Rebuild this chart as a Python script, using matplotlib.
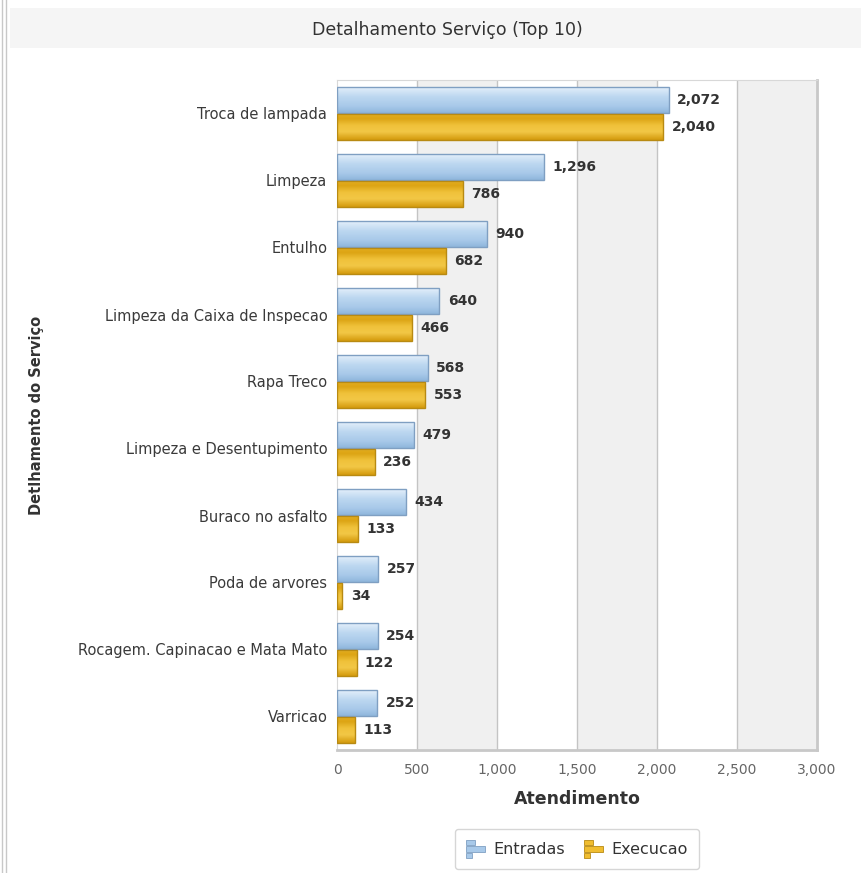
import numpy as np
import matplotlib
matplotlib.use("Agg")
import matplotlib.pyplot as plt
from matplotlib.colors import LinearSegmentedColormap
from matplotlib.patches import Rectangle
from matplotlib.lines import Line2D
from matplotlib.legend_handler import HandlerBase
import matplotlib.ticker as ticker

plt.rcParams["font.family"] = ["DejaVu Sans"]

categories = [
    "Troca de lampada",
    "Limpeza",
    "Entulho",
    "Limpeza da Caixa de Inspecao",
    "Rapa Treco",
    "Limpeza e Desentupimento",
    "Buraco no asfalto",
    "Poda de arvores",
    "Rocagem. Capinacao e Mata Mato",
    "Varricao",
]
entradas = [2072, 1296, 940, 640, 568, 479, 434, 257, 254, 252]
execucao = [2040, 786, 682, 466, 553, 236, 133, 34, 122, 113]
series_names = ["Entradas", "Execucao"]

# gradients go bottom -> top of each bar
blue_cmap = LinearSegmentedColormap.from_list(
    "blue", [(0, "#8fb6dc"), (0.25, "#a8c9e9"), (0.6, "#bcd7f0"), (0.85, "#d6e7f7"), (1, "#eef6fd")])
gold_cmap = LinearSegmentedColormap.from_list(
    "gold", [(0, "#d49a0c"), (0.3, "#f2c746"), (0.55, "#f0c23a"), (0.8, "#dca414"), (0.92, "#e2ab1a"), (1, "#f6dc8a")])
blue_edge = "#7f9fc2"
gold_edge = "#b88a12"


class BarIconHandler(HandlerBase):
    # little three-bar glyph like the legend icons in the original chart
    def __init__(self, face, edge):
        super().__init__()
        self.face, self.edge = face, edge

    def create_artists(self, legend, orig_handle, xd, yd, width, height, fontsize, trans):
        x0, y0 = -xd, -yd
        gap = height * 0.06
        bh = (height - 2 * gap) / 3
        out = []
        for k, frac in enumerate([0.45, 1.0, 0.3]):
            r = Rectangle((x0, y0 + height - (k + 1) * bh - k * gap), width * frac, bh,
                          facecolor=self.face, edgecolor=self.edge, lw=0.6, transform=trans)
            out.append(r)
        return out


fig = plt.figure(figsize=(8.61, 8.73), dpi=100)
ax = fig.add_axes([337 / 861, 1 - 750 / 873, 480 / 861, 670 / 873])

# header band and left border
fig.add_artist(Rectangle((10 / 861, 1 - 48 / 873), 1, 40 / 873, transform=fig.transFigure,
                         facecolor="#f5f5f5", edgecolor="none", zorder=0))
fig.add_artist(Line2D([2 / 861, 2 / 861], [0, 1], transform=fig.transFigure, color="#c8c8c8", lw=1))
fig.add_artist(Line2D([6 / 861, 6 / 861], [0, 1], transform=fig.transFigure, color="#c8c8c8", lw=1))
fig.text(447 / 861, 1 - 30 / 873, "Detalhamento Serviço (Top 10)", ha="center", va="center",
         fontsize=12.5, color="#333333")

y = np.arange(len(categories))
h = 0.39
off = 0.205

# alternating bands
xmax = 3000
for i, x0 in enumerate(range(0, xmax, 500)):
    if i % 2 == 1:
        ax.axvspan(x0, x0 + 500, color="#f0f0f0", zorder=0, lw=0)
for x0 in range(500, xmax, 500):
    ax.axvline(x0, color="#c4c4c4", lw=1, zorder=1)

bars_e = ax.barh(y - off, entradas, height=h, color="none", edgecolor=blue_edge, lw=1, zorder=4)
bars_x = ax.barh(y + off, execucao, height=h, color="none", edgecolor=gold_edge, lw=1, zorder=4)

grad = np.linspace(0, 1, 64).reshape(-1, 1)
for bars, cmap in [(bars_e, blue_cmap), (bars_x, gold_cmap)]:
    for b in bars:
        x0, y0, w, hh = b.get_x(), b.get_y(), b.get_width(), b.get_height()
        im = ax.imshow(grad, cmap=cmap, origin="lower", aspect="auto", interpolation="bicubic",
                       extent=(x0, x0 + w, y0 + hh, y0), zorder=3)
        im.set_clip_path(b)

for bars, vals in [(bars_e, entradas), (bars_x, execucao)]:
    for b, v in zip(bars, vals):
        ax.annotate(f"{v:,}", (b.get_width(), b.get_y() + b.get_height() / 2),
                    xytext=(6, 0), textcoords="offset points", ha="left", va="center",
                    fontsize=10, fontweight="bold", color="#333333", zorder=5)

ax.set_xlim(0, xmax)
ax.set_ylim(len(categories) - 0.5, -0.5)
ax.set_yticks(y)
ax.set_yticklabels(categories, fontsize=10.5, color="#3a3a3a")
ax.xaxis.set_major_locator(ticker.MultipleLocator(500))
ax.xaxis.set_major_formatter(ticker.FuncFormatter(lambda v, p: f"{int(v):,}"))
ax.tick_params(axis="x", colors="#666666", labelsize=10, length=0, pad=9)
ax.tick_params(axis="y", length=0, pad=7)
for s in ["top", "left"]:
    ax.spines[s].set_color("#d8d8d8")
for s in ["right", "bottom"]:
    ax.spines[s].set_color("#c8c8c8")
    ax.spines[s].set_linewidth(2)

ax.set_xlabel("Atendimento", fontsize=12.5, fontweight="bold", color="#333333", labelpad=10)
fig.text(37 / 861, 1 - 415 / 873, "Detlhamento do Serviço", rotation=90, ha="center", va="center",
         fontsize=10.5, fontweight="bold", color="#333333")

handles = [Rectangle((0, 0), 1, 1), Rectangle((0, 0), 1, 1)]
leg = fig.legend(handles, series_names, loc="center", bbox_to_anchor=(577 / 861, 1 - 849 / 873),
                 ncol=2, fontsize=11.5, frameon=True, fancybox=True, handlelength=1.2, handleheight=1.3,
                 handletextpad=0.5, columnspacing=1.2, borderpad=0.7,
                 handler_map={handles[0]: BarIconHandler("#a8c9e9", blue_edge),
                              handles[1]: BarIconHandler("#f0bd30", gold_edge)})
leg.get_frame().set_edgecolor("#cccccc")
leg.get_frame().set_linewidth(1)
for t in leg.get_texts():
    t.set_color("#333333")

fig.savefig("out.png", dpi=100)
